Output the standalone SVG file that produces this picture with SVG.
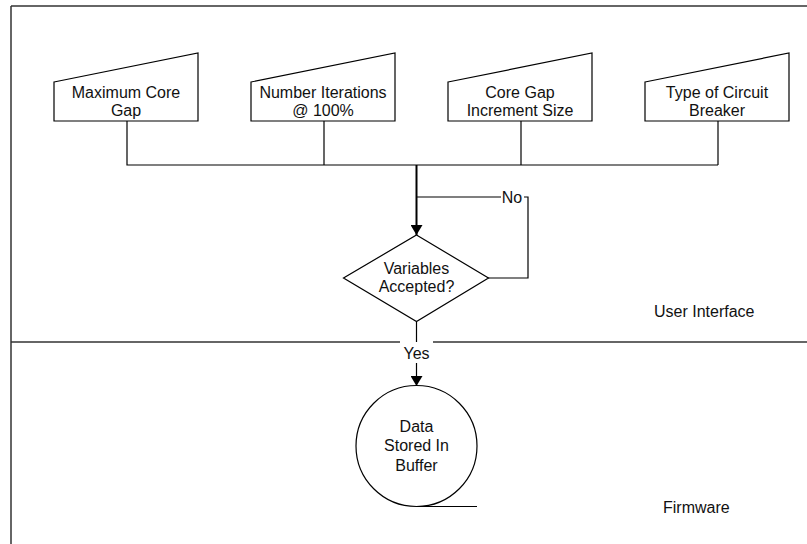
<svg xmlns="http://www.w3.org/2000/svg" width="807" height="544" viewBox="0 0 807 544">
<style>
.ln{fill:none;stroke:#000;stroke-width:1.2}
.bd{fill:none;stroke:#333;stroke-width:1.5}
.sh{fill:#fff;stroke:#000;stroke-width:1.2}
text{font-family:"Liberation Sans",Arial,sans-serif;font-size:16px;fill:#111}
.c{text-anchor:middle}
</style>
<defs>
<marker id="ah" markerWidth="10" markerHeight="12" refX="10" refY="6" orient="auto" markerUnits="userSpaceOnUse">
<path d="M0,0 L10,6 L0,12 Z" fill="#000"/>
</marker>
</defs>
<rect width="807" height="544" fill="#fff"/>
<g id="frame">
<line class="bd" x1="11" y1="6" x2="807" y2="6"/>
<line class="bd" x1="11" y1="6" x2="11" y2="544"/>
<line class="bd" x1="11" y1="342" x2="400" y2="342"/>
<line class="bd" x1="433" y1="342" x2="807" y2="342"/>
<text x="654" y="317">User Interface</text>
<text x="663" y="513">Firmware</text>
</g>
<g id="connectors">
<polyline class="ln" points="127,121 127,165 718,165"/>
<line class="ln" x1="324" y1="121" x2="324" y2="165"/>
<line class="ln" x1="521" y1="121" x2="521" y2="165"/>
<line class="ln" x1="718" y1="121" x2="718" y2="165"/>
<line x1="416.5" y1="165" x2="416.5" y2="235" stroke="#000" stroke-width="2" marker-end="url(#ah)"/>
<polyline class="ln" points="488,278 528,278 528,197 524,197"/>
<line class="ln" x1="416.5" y1="197" x2="501" y2="197"/>
<text x="512" y="203" class="c">No</text>
<line class="ln" x1="416.5" y1="322" x2="416.5" y2="342"/>
<text x="416.5" y="359" class="c">Yes</text>
<line class="ln" x1="416.5" y1="363" x2="416.5" y2="386" marker-end="url(#ah)"/>
</g>
<g id="n1">
<path class="sh" d="M54,82 L198,53 L198,121 L54,121 Z"/>
<text x="126" y="98" class="c">Maximum Core</text>
<text x="126" y="115.5" class="c">Gap</text>
</g>
<g id="n2">
<path class="sh" d="M251,82 L395,53 L395,121 L251,121 Z"/>
<text x="323" y="98" class="c">Number Iterations</text>
<text x="323" y="115.5" class="c">@ 100%</text>
</g>
<g id="n3">
<path class="sh" d="M448,82 L592,53 L592,121 L448,121 Z"/>
<text x="520" y="98" class="c">Core Gap</text>
<text x="520" y="115.5" class="c">Increment Size</text>
</g>
<g id="n4">
<path class="sh" d="M645,82 L789,53 L789,121 L645,121 Z"/>
<text x="717" y="98" class="c">Type of Circuit</text>
<text x="717" y="115.5" class="c">Breaker</text>
</g>
<g id="decision">
<path class="sh" d="M416.5,235 L488.5,278 L416.5,321.5 L343.5,278 Z"/>
<text x="416.5" y="274" class="c">Variables</text>
<text x="416.5" y="292" class="c">Accepted?</text>
</g>
<g id="buffer">
<circle class="sh" cx="416.5" cy="446" r="60.5"/>
<line class="ln" x1="416.5" y1="506.5" x2="477" y2="506.5"/>
<text x="416.5" y="431.5" class="c">Data</text>
<text x="416.5" y="451" class="c">Stored In</text>
<text x="416.5" y="470.5" class="c">Buffer</text>
</g>
</svg>
